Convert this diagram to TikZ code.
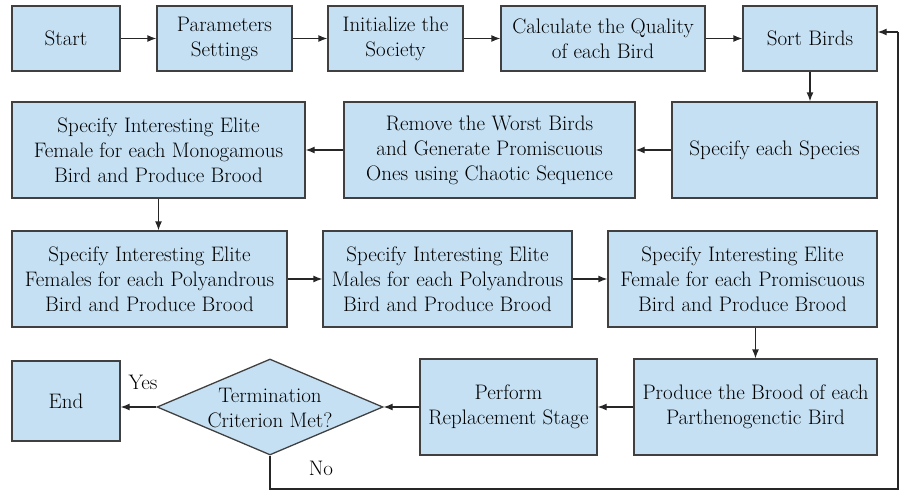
\documentclass[tikz,border=0pt]{standalone}
\usetikzlibrary{arrows.meta,shapes.geometric}
\definecolor{boxfill}{RGB}{197,224,243}
\definecolor{boxline}{RGB}{64,64,64}
\tikzset{
  box/.style={draw=boxline, fill=boxfill, line width=1.3pt, align=center, inner sep=2pt,
    font=\rmfamily\fontsize{21}{25}\selectfont},
  dia/.style={draw=boxline, fill=boxfill, line width=1.3pt, diamond, inner sep=0pt,
    minimum width=226pt, minimum height=96pt},
  lbl/.style={font=\rmfamily\fontsize{21}{25}\selectfont, align=center, inner sep=0pt},
  conn/.style={draw=black!85, line width=1.3pt, -{Latex[length=9pt,width=7pt]}},
  plain/.style={draw=black!85, line width=1.3pt}
}
\begin{document}
\begin{tikzpicture}[x=1pt,y=-1pt]
\useasboundingbox (0,0) rectangle (899,490);
% Row 1
\node[box, minimum width=108pt, minimum height=65pt] (start) at (66,38.5) {Start};
\node[box, minimum width=135pt, minimum height=65pt] (params) at (224.5,38.5) {Parameters\\Settings};
\node[box, minimum width=135pt, minimum height=65pt] (init) at (395.5,38.5) {Initialize the\\Society};
\node[box, minimum width=204pt, minimum height=65pt] (calc) at (603,38.5) {Calculate the Quality\\of each Bird};
\node[box, minimum width=134pt, minimum height=65pt] (sort) at (810,38.5) {Sort Birds};
% Row 2
\node[box, minimum width=293pt, minimum height=96pt] (mono) at (158.5,150) {Specify Interesting Elite\\Female for each Monogamous\\Bird and Produce Brood};
\node[box, minimum width=291pt, minimum height=96pt] (remove) at (489.5,150) {Remove the Worst Birds\\and Generate Promiscuous\\Ones using Chaotic Sequence};
\node[box, minimum width=205pt, minimum height=96pt] (species) at (774.5,150) {Specify each Species};
% Row 3
\node[box, minimum width=275pt, minimum height=96pt] (polyf) at (149.5,279) {Specify Interesting Elite\\Females for each Polyandrous\\Bird and Produce Brood};
\node[box, minimum width=249pt, minimum height=96pt] (polym) at (447.5,279) {Specify Interesting Elite\\Males for each Polyandrous\\Bird and Produce Brood};
\node[box, minimum width=269pt, minimum height=96pt] (promis) at (742.5,279) {Specify Interesting Elite\\Female for each Promiscuous\\Bird and Produce Brood};
% Row 4
\node[box, minimum width=243pt, minimum height=96pt] (parth) at (755.5,407) {Produce the Brood of each\\Parthenogenctic Bird};
\node[box, minimum width=177pt, minimum height=96pt] (replace) at (508.5,407) {Perform\\Replacement Stage};
\node[dia] (term) at (270,407) {};
\node[lbl] (termtext) at (270,408) {Termination\\Criterion Met?};
\node[box, minimum width=108pt, minimum height=80pt] (end) at (66,401) {End};
% labels
\node[lbl] (yes) at (143,382) {Yes};
\node[lbl] (no) at (321,468) {No};
% feedback coordinates
\coordinate (fbA) at (270,489);
\coordinate (fbB) at (898,489);
\coordinate (fbC) at (898,32);
% connectors
\draw[conn] (start) -- (params);
\draw[conn] (params) -- (init);
\draw[conn] (init) -- (calc);
\draw[conn] (calc) -- (sort);
\draw[conn] (sort.south) -- (sort.south |- species.north);
\draw[conn] (species) -- (remove);
\draw[conn] (remove) -- (mono);
\draw[conn] (mono.south) -- (mono.south |- polyf.north);
\draw[conn] (polyf) -- (polym);
\draw[conn] (polym) -- (promis);
\draw[conn] (promis.south -| parth.north) -- (parth.north);
\draw[conn] (parth) -- (replace);
\draw[conn] (replace) -- (term.east);
\draw[conn] (term.west) -- (term.west -| end.east);
\draw[plain] (term.south) -- (fbA) -- (fbB) -- (fbC);
\draw[conn] (fbC) -- (fbC -| sort.east);
\end{tikzpicture}
\end{document}
